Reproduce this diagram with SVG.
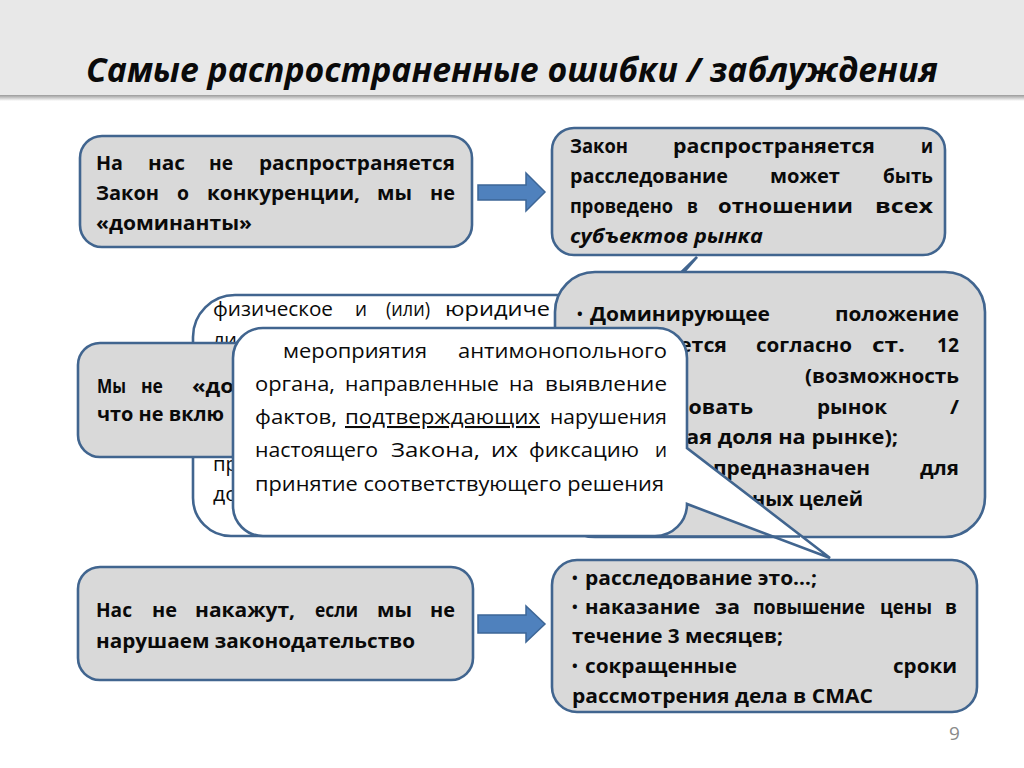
<svg xmlns="http://www.w3.org/2000/svg" width="1024" height="768" viewBox="0 0 1024 768">
<defs>
<linearGradient id="sh" x1="0" y1="0" x2="0" y2="1">
<stop offset="0" stop-color="#9a9a9a"/>
<stop offset="1" stop-color="#ffffff"/>
</linearGradient>
<style>
.box{fill:#d9d9d9;stroke:#41658f;stroke-width:2.6}
.wbox{fill:#ffffff;stroke:#41658f;stroke-width:2.6}
.arr{fill:#4f81bd;stroke:#3d6696;stroke-width:1.5}
text{font-family:"Open Sans","Noto Sans",sans-serif;fill:#0a0a0a}
.b{font-size:19px;font-weight:bold}
.bu{font-size:15px;font-weight:bold}
.bi{font-size:19px;font-weight:bold;font-style:italic}
.r{font-size:20.5px}
.t{font-size:34px;font-weight:bold;font-style:italic}
.pn{font-size:19px;fill:#8a8a8a}
</style>
</defs>
<rect x="0" y="0" width="1024" height="768" fill="#ffffff"/>
<g id="title">
<rect x="0" y="0" width="1024" height="95" fill="#e8e8e8"/>
<rect x="0" y="95" width="1024" height="6" fill="url(#sh)"/>
<text class="t" x="86" y="82" textLength="852" lengthAdjust="spacingAndGlyphs">Самые распространенные ошибки / заблуждения</text>
</g>

<g id="node-top-left">
<rect class="box" x="80" y="136" width="392" height="111" rx="22"/>
<text class="b" x="96" y="170" textLength="27" lengthAdjust="spacingAndGlyphs">На</text>
<text class="b" x="148" y="170" textLength="37" lengthAdjust="spacingAndGlyphs">нас</text>
<text class="b" x="209" y="170" textLength="24" lengthAdjust="spacingAndGlyphs">не</text>
<text class="b" x="259" y="170" textLength="196" lengthAdjust="spacingAndGlyphs">распространяется</text>
<text class="b" x="96" y="200" textLength="63" lengthAdjust="spacingAndGlyphs">Закон</text>
<text class="b" x="177" y="200" textLength="12" lengthAdjust="spacingAndGlyphs">о</text>
<text class="b" x="207" y="200" textLength="153" lengthAdjust="spacingAndGlyphs">конкуренции,</text>
<text class="b" x="377" y="200" textLength="35" lengthAdjust="spacingAndGlyphs">мы</text>
<text class="b" x="430" y="200" textLength="25" lengthAdjust="spacingAndGlyphs">не</text>
<text class="b" x="96" y="230" textLength="156" lengthAdjust="spacingAndGlyphs">«доминанты»</text>
</g>

<g id="node-top-right">
<rect class="box" x="552" y="128" width="393" height="127" rx="22"/>
<text class="b" x="570" y="153" textLength="58" lengthAdjust="spacingAndGlyphs">Закон</text>
<text class="b" x="673" y="153" textLength="202" lengthAdjust="spacingAndGlyphs">распространяется</text>
<text class="b" x="921" y="153" textLength="12" lengthAdjust="spacingAndGlyphs">и</text>
<text class="b" x="570" y="183" textLength="158" lengthAdjust="spacingAndGlyphs">расследование</text>
<text class="b" x="770" y="183" textLength="70" lengthAdjust="spacingAndGlyphs">может</text>
<text class="b" x="883" y="183" textLength="50" lengthAdjust="spacingAndGlyphs">быть</text>
<text class="b" x="570" y="213" textLength="103" lengthAdjust="spacingAndGlyphs">проведено</text>
<text class="b" x="687" y="213" textLength="11" lengthAdjust="spacingAndGlyphs">в</text>
<text class="b" x="718" y="213" textLength="135" lengthAdjust="spacingAndGlyphs">отношении</text>
<text class="b" x="875" y="213" textLength="58" lengthAdjust="spacingAndGlyphs">всех</text>
<text class="bi" x="570" y="243" textLength="193" lengthAdjust="spacingAndGlyphs">субъектов рынка</text>
</g>

<g id="callout-subject">
<path class="wbox" d="M235,295 H658 L697,257 L664,295 H720 V536 H231 A38,38 0 0 1 193,498 V337 A42,42 0 0 1 235,295 Z"/>
<text class="r" x="213" y="316" textLength="120" lengthAdjust="spacingAndGlyphs">физическое</text>
<text class="r" x="355" y="316" textLength="12" lengthAdjust="spacingAndGlyphs">и</text>
<text class="r" x="386" y="316" textLength="44" lengthAdjust="spacingAndGlyphs">(или)</text>
<text class="r" x="445" y="316" textLength="105" lengthAdjust="spacingAndGlyphs">юридиче</text>
<text class="r" x="213" y="347" textLength="24" lengthAdjust="spacingAndGlyphs">ли</text>
<text class="r" x="213" y="471" textLength="25" lengthAdjust="spacingAndGlyphs">пр</text>
<text class="r" x="213" y="501" textLength="25" lengthAdjust="spacingAndGlyphs">до</text>
</g>

<g id="node-middle-left">
<rect class="box" x="78" y="343" width="240" height="114" rx="22"/>
<text class="b" x="97" y="393" textLength="29" lengthAdjust="spacingAndGlyphs">Мы</text>
<text class="b" x="141" y="393" textLength="22" lengthAdjust="spacingAndGlyphs">не</text>
<text class="b" x="192" y="393" textLength="42" lengthAdjust="spacingAndGlyphs">«до</text>
<text class="b" x="97" y="421" textLength="127" lengthAdjust="spacingAndGlyphs">что не вклю</text>
</g>

<g id="callout-dominant">
<rect class="box" x="555" y="272" width="430" height="265" rx="40"/>
<text class="bu" x="577" y="319">•</text>
<text class="b" x="590" y="321" textLength="180" lengthAdjust="spacingAndGlyphs">Доминирующее</text>
<text class="b" x="835" y="321" textLength="124" lengthAdjust="spacingAndGlyphs">положение</text>
<text class="b" x="679" y="352" textLength="48" lengthAdjust="spacingAndGlyphs">ется</text>
<text class="b" x="756" y="352" textLength="96" lengthAdjust="spacingAndGlyphs">согласно</text>
<text class="b" x="872" y="352" textLength="33" lengthAdjust="spacingAndGlyphs">ст.</text>
<text class="b" x="937" y="352" textLength="22" lengthAdjust="spacingAndGlyphs">12</text>
<text class="b" x="805" y="383" textLength="154" lengthAdjust="spacingAndGlyphs">(возможность</text>
<text class="b" x="675" y="414" textLength="78" lengthAdjust="spacingAndGlyphs">ровать</text>
<text class="b" x="817" y="414" textLength="70" lengthAdjust="spacingAndGlyphs">рынок</text>
<text class="b" x="950" y="414" textLength="9" lengthAdjust="spacingAndGlyphs">/</text>
<text class="b" x="686" y="444" textLength="212" lengthAdjust="spacingAndGlyphs">ая доля на рынке);</text>
<text class="b" x="713" y="475" textLength="157" lengthAdjust="spacingAndGlyphs">предназначен</text>
<text class="b" x="920" y="475" textLength="39" lengthAdjust="spacingAndGlyphs">для</text>
<text class="b" x="752" y="506" textLength="111" lengthAdjust="spacingAndGlyphs">ных целей</text>
</g>

<g id="node-bottom-left">
<rect class="box" x="78" y="567" width="395" height="113" rx="22"/>
<text class="b" x="96" y="617" textLength="36" lengthAdjust="spacingAndGlyphs">Нас</text>
<text class="b" x="152" y="617" textLength="25" lengthAdjust="spacingAndGlyphs">не</text>
<text class="b" x="195" y="617" textLength="100" lengthAdjust="spacingAndGlyphs">накажут,</text>
<text class="b" x="315" y="617" textLength="43" lengthAdjust="spacingAndGlyphs">если</text>
<text class="b" x="377" y="617" textLength="35" lengthAdjust="spacingAndGlyphs">мы</text>
<text class="b" x="430" y="617" textLength="25" lengthAdjust="spacingAndGlyphs">не</text>
<text class="b" x="96" y="648" textLength="319" lengthAdjust="spacingAndGlyphs">нарушаем законодательство</text>
</g>

<g id="node-bottom-right">
<rect class="box" x="552" y="560" width="425" height="152" rx="25"/>
<text class="bu" x="572" y="583">•</text>
<text class="b" x="585" y="585" textLength="232" lengthAdjust="spacingAndGlyphs">расследование это…;</text>
<text class="bu" x="572" y="612">•</text>
<text class="b" x="585" y="614" textLength="115" lengthAdjust="spacingAndGlyphs">наказание</text>
<text class="b" x="715" y="614" textLength="25" lengthAdjust="spacingAndGlyphs">за</text>
<text class="b" x="753" y="614" textLength="112" lengthAdjust="spacingAndGlyphs">повышение</text>
<text class="b" x="880" y="614" textLength="52" lengthAdjust="spacingAndGlyphs">цены</text>
<text class="b" x="945" y="614" textLength="12" lengthAdjust="spacingAndGlyphs">в</text>
<text class="b" x="572" y="643" textLength="211" lengthAdjust="spacingAndGlyphs">течение 3 месяцев;</text>
<text class="bu" x="572" y="671">•</text>
<text class="b" x="585" y="673" textLength="152" lengthAdjust="spacingAndGlyphs">сокращенные</text>
<text class="b" x="893" y="673" textLength="64" lengthAdjust="spacingAndGlyphs">сроки</text>
<text class="b" x="572" y="703" textLength="301" lengthAdjust="spacingAndGlyphs">рассмотрения дела в СМАС</text>
</g>

<g id="callout-investigation">
<path class="wbox" d="M263,328 H657 A30,30 0 0 1 687,358 V448 L830,558 L687,504 A32,32 0 0 1 655,536 H263 A30,30 0 0 1 233,506 V358 A30,30 0 0 1 263,328 Z"/>
<line x1="655" y1="536.5" x2="800" y2="536.5" stroke="#41658f" stroke-width="2.6"/>
<text class="r" x="283" y="358" textLength="144" lengthAdjust="spacingAndGlyphs">мероприятия</text>
<text class="r" x="458" y="358" textLength="209" lengthAdjust="spacingAndGlyphs">антимонопольного</text>
<text class="r" x="255" y="391" textLength="80" lengthAdjust="spacingAndGlyphs">органа,</text>
<text class="r" x="345" y="391" textLength="154" lengthAdjust="spacingAndGlyphs">направленные</text>
<text class="r" x="509" y="391" textLength="25" lengthAdjust="spacingAndGlyphs">на</text>
<text class="r" x="545" y="391" textLength="122" lengthAdjust="spacingAndGlyphs">выявление</text>
<text class="r" x="255" y="424" textLength="82" lengthAdjust="spacingAndGlyphs">фактов,</text>
<text class="r" x="345" y="424" textLength="195" lengthAdjust="spacingAndGlyphs" text-decoration="underline">подтверждающих</text>
<text class="r" x="550" y="424" textLength="117" lengthAdjust="spacingAndGlyphs">нарушения</text>
<text class="r" x="255" y="457" textLength="123" lengthAdjust="spacingAndGlyphs">настоящего</text>
<text class="r" x="391" y="457" textLength="89" lengthAdjust="spacingAndGlyphs">Закона,</text>
<text class="r" x="491" y="457" textLength="27" lengthAdjust="spacingAndGlyphs">их</text>
<text class="r" x="529" y="457" textLength="110" lengthAdjust="spacingAndGlyphs">фиксацию</text>
<text class="r" x="655" y="457" textLength="12" lengthAdjust="spacingAndGlyphs">и</text>
<text class="r" x="255" y="491" textLength="409" lengthAdjust="spacingAndGlyphs">принятие соответствующего решения</text>
</g>

<g id="connectors">
<polygon class="arr" points="478,185 526,185 526,173 545,192 526,211 526,200 478,200"/>
<polygon class="arr" points="478,615 526,615 526,606 545,624 526,642 526,633 478,633"/>
</g>

<text class="pn" x="949" y="740">9</text>
</svg>
